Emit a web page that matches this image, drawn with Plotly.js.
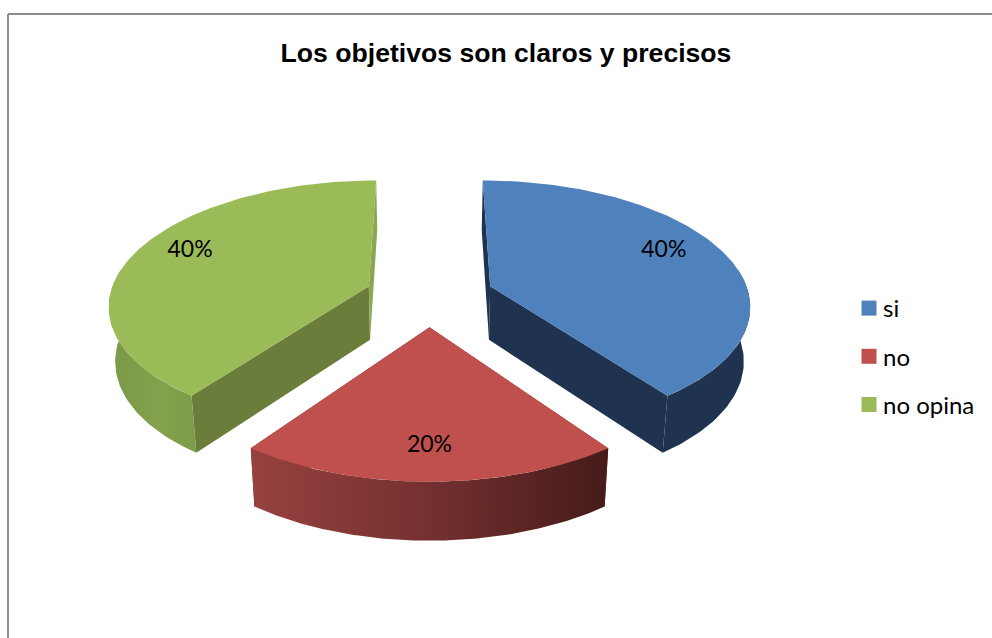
<!DOCTYPE html>
<html><head><meta charset="utf-8">
<script src="https://cdn.plot.ly/plotly-3.0.1.min.js"></script>
<style>html,body{margin:0;padding:0;background:#fff}#c{width:992px;height:638px}</style></head>
<body><div id="c"></div>
<script>
const chartTitle = 'Los objetivos son claros y precisos';
const categories = ['si', 'no', 'no opina'];
const values = [40, 20, 40];
const topColors = ['#4f81bd', '#c0504d', '#9bbb59'];
const startFaceColors = ['#1f3350', '#7a302e', '#6a7d3a'];
const endFaceColors = ['#1f3350', '#7a302e', '#8aa850'];
const rimScales = [
  [[0, '#1f3350'], [1, '#1f3350']],
  [[0, '#97423f'], [0.5, '#743030'], [1, '#451b19']],
  [[0, '#7b9946'], [0.6, '#84a24c'], [1, '#7d9a48']]
];
const labelTurn = [-4.6, 0, 4];
const labelRadius = [0.775, 0.8, 0.794];

// Projection of the tilted pie onto the page
const view = {cx: 429.5, cy: 295.5, rx: 259, ry: 123, persp: 0.14, explode: 0.249, depth: 54, depthGrow: 4, shrink: 0.98};
function project(X, V, low) {
  const k = 1 / (1 - view.persp * V);
  let x = view.rx * X * k, y = view.ry * V * k;
  if (low) { x *= view.shrink; y += view.depth + view.depthGrow * V; }
  return [view.cx + x, view.cy + y];
}
const total = values.reduce((a, b) => a + b, 0);
const traces = [];
function poly(pts, color, grad) {
  const t = {x: pts.map(p => p[0]), y: pts.map(p => p[1]), type: 'scatter', mode: 'lines', fill: 'toself',
    fillcolor: color, line: {width: 0, color: color}, hoverinfo: 'skip', showlegend: false};
  if (grad) { t.fillgradient = {type: 'horizontal', colorscale: grad}; }
  traces.push(t);
}
let acc = 0;
const order = [2, 0, 1];
const geom = values.map(v => { const g = {a0: acc / total * 360, a1: (acc + v) / total * 360}; acc += v; return g; });
const rad = d => d * Math.PI / 180;
const labelX = [], labelY = [], labelText = [];
order.forEach(i => {
  const {a0, a1} = geom[i];
  const mid = rad((a0 + a1) / 2);
  const ox = view.explode * Math.sin(mid), ov = -view.explode * Math.cos(mid);
  const rimPt = (deg, low) => project(ox + Math.sin(rad(deg)), ov - Math.cos(rad(deg)), low);
  const arcDeg = [];
  for (let d = a0; d <= a1 + 1e-6; d += (a1 - a0) / 120) arcDeg.push(d);
  const aTop = project(ox, ov, false), aLow = project(ox, ov, true);
  poly([aTop, rimPt(a0, false), rimPt(a0, true), aLow], startFaceColors[i]);
  poly([aTop, rimPt(a1, false), rimPt(a1, true), aLow], endFaceColors[i]);
  // rim only where it faces the viewer
  const front = arcDeg.filter(d => Math.cos(rad(d)) < 0.15);
  poly(front.map(d => rimPt(d, false)).concat(front.slice().reverse().map(d => rimPt(d, true))), topColors[i], rimScales[i]);
  poly([aTop].concat(arcDeg.map(d => rimPt(d, false))), topColors[i]);
  const la = rad((a0 + a1) / 2 + labelTurn[i]);
  const p = project(ox + labelRadius[i] * Math.sin(la), ov - labelRadius[i] * Math.cos(la), false);
  labelX.push(p[0]); labelY.push(p[1]);
  labelText.push(Math.round(values[i] / total * 100) + '%');
});
traces.push({x: labelX, y: labelY, text: labelText, type: 'scatter', mode: 'text', textposition: 'middle center',
  textfont: {family: 'Lato, sans-serif', size: 23, color: '#000'}, hoverinfo: 'skip', showlegend: false});
categories.forEach((c, i) => traces.push({x: [null], y: [null], name: c, type: 'scatter', mode: 'markers', legendgroup: c,
  marker: {symbol: 'square', size: 15, color: topColors[i]}}));

const layout = {
  width: 992, height: 638, margin: {l: 0, r: 0, t: 0, b: 0}, paper_bgcolor: '#fff', plot_bgcolor: '#fff',
  title: {text: '<b>' + chartTitle + '</b>', x: 506 / 992, xanchor: 'center', y: 1 - 53 / 638, yanchor: 'middle',
    font: {family: '"Liberation Sans", Arial, sans-serif', size: 26.6, color: '#000'}},
  xaxis: {range: [0, 992], visible: false, fixedrange: true},
  yaxis: {range: [638, 0], visible: false, fixedrange: true},
  legend: {x: 849 / 992, xanchor: 'left', y: 1 - 286 / 638, yanchor: 'top', bgcolor: 'rgba(0,0,0,0)', tracegroupgap: 14,
    font: {family: 'Lato, sans-serif', size: 24, color: '#000'}, itemclick: false, itemdoubleclick: false},
  shapes: [
    {type: 'line', xref: 'x', yref: 'y', x0: 8, x1: 8, y0: 14, y1: 638, line: {color: '#8c8c8c', width: 2}},
    {type: 'line', xref: 'x', yref: 'y', x0: 8, x1: 992, y0: 14, y1: 14, line: {color: '#8c8c8c', width: 2}}
  ]
};
Plotly.newPlot('c', traces, layout, {displayModeBar: false}).then(gd => {
  gd.querySelectorAll('.legendtext').forEach(t => t.setAttribute('x', +t.getAttribute('x') - 6));
});
</script></body></html>
